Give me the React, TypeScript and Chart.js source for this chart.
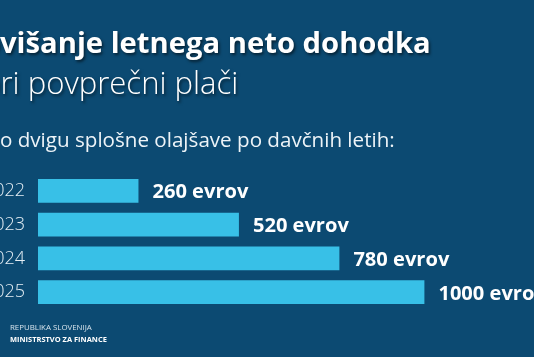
import React, { useEffect, useRef } from "react";
import { Chart, registerables } from "chart.js";
Chart.register(...registerables);

const years = ["2022", "2023", "2024", "2025"];
const values = [260, 520, 780, 1000];
const valueLabels = ["260 evrov", "520 evrov", "780 evrov", "1000 evrov"];
const titleText = "Povišanje letnega neto dohodka";
const subtitleText = "pri povprečni plači";
const introText = "Po dvigu splošne olajšave po davčnih letih:";
const footer1 = "REPUBLIKA SLOVENIJA";
const footer2 = "MINISTRSTVO ZA FINANCE";

const BG = "#0c4a72";
const BAR = "#38c0e7";
const FAM = "'Open Sans', 'Noto Sans', sans-serif";

function fit(ctx: CanvasRenderingContext2D, weight: string, text: string, target: number) {
  ctx.font = `${weight} 100px ${FAM}`;
  const w = ctx.measureText(text).width;
  return (100 * target) / w;
}

const textPlugin = {
  id: "texts",
  beforeDraw(chart: any) {
    const ctx = chart.ctx as CanvasRenderingContext2D;
    ctx.save();
    ctx.fillStyle = BG;
    ctx.fillRect(0, 0, chart.width, chart.height);
    ctx.restore();
  },
  afterDatasetsDraw(chart: any) {
    const ctx = chart.ctx as CanvasRenderingContext2D;
    const meta = chart.getDatasetMeta(0);
    ctx.save();
    const size = fit(ctx, "700", valueLabels[0], 96);
    ctx.font = `700 ${size}px ${FAM}`;
    ctx.fillStyle = "#ffffff";
    ctx.textAlign = "left";
    ctx.textBaseline = "alphabetic";
    meta.data.forEach((el: any, i: number) => {
      ctx.fillText(valueLabels[i], el.x + 14, el.y + size * 0.37);
    });
    ctx.restore();
  },
  afterDraw(chart: any) {
    const ctx = chart.ctx as CanvasRenderingContext2D;
    ctx.save();
    ctx.textAlign = "left";
    ctx.textBaseline = "alphabetic";
    ctx.fillStyle = "#ffffff";
    ctx.shadowColor = "rgba(0,0,0,0.55)";
    ctx.shadowOffsetX = 1.5;
    ctx.shadowOffsetY = 1.5;
    ctx.shadowBlur = 3;

    // title
    let s = fit(ctx, "700", titleText.slice(2), 431);
    ctx.font = `700 ${s}px ${FAM}`;
    let off = ctx.measureText(titleText.slice(0, 2)).width;
    ctx.fillText(titleText, -off, 53);

    // subtitle
    s = fit(ctx, "300", subtitleText.slice(1), 238);
    ctx.font = `300 ${s}px ${FAM}`;
    off = ctx.measureText(subtitleText.slice(0, 1)).width;
    ctx.fillText(subtitleText, -off + 0.5, 94);

    ctx.shadowColor = "transparent";
    ctx.fillStyle = "#eef4f8";
    s = fit(ctx, "400", introText.slice(1), 395);
    ctx.font = `400 ${s}px ${FAM}`;
    off = ctx.measureText(introText.slice(0, 1)).width;
    ctx.fillText(introText, -off, 147);

    // footer
    ctx.fillStyle = "#d6e3ec";
    s = fit(ctx, "400", footer1, 82);
    ctx.font = `400 ${s}px ${FAM}`;
    ctx.fillText(footer1, 10, 330);
    ctx.fillStyle = "#ffffff";
    s = fit(ctx, "700", footer2, 97);
    ctx.font = `700 ${s}px ${FAM}`;
    ctx.fillText(footer2, 10, 341.5);
    ctx.restore();
  },
};

export default function App() {
  const ref = useRef<HTMLCanvasElement | null>(null);
  useEffect(() => {
    if (!ref.current) return;
    const chart = new Chart(ref.current, {
      type: "bar",
      data: {
        labels: years,
        datasets: [
          {
            data: values,
            backgroundColor: BAR,
            borderWidth: 0,
            barPercentage: 0.7,
            categoryPercentage: 1,
          },
        ],
      },
      options: {
        indexAxis: "y",
        animation: false,
        responsive: false,
        maintainAspectRatio: false,
        devicePixelRatio: 1,
        layout: { padding: { top: 174, bottom: 48, left: 0, right: 13 } },
        plugins: { legend: { display: false }, tooltip: { enabled: false }, title: { display: false } },
        scales: {
          x: { display: false, min: 0, max: 1250 },
          y: {
            grid: { display: false, drawTicks: false },
            border: { display: false },
            afterFit: (scale: any) => {
              scale.width = 38;
            },
            ticks: {
              padding: 13,
              color: "#e6eff5",
              font: { family: FAM, size: 18, weight: "300" as any },
            },
          },
        },
      },
      plugins: [textPlugin],
    });
    return () => chart.destroy();
  }, []);
  return (
    <div style={{ position: "fixed", left: 0, top: 0, width: 534, height: 357, background: BG }}>
      <canvas ref={ref} width={534} height={357} style={{ display: "block", width: 534, height: 357 }} />
    </div>
  );
}
